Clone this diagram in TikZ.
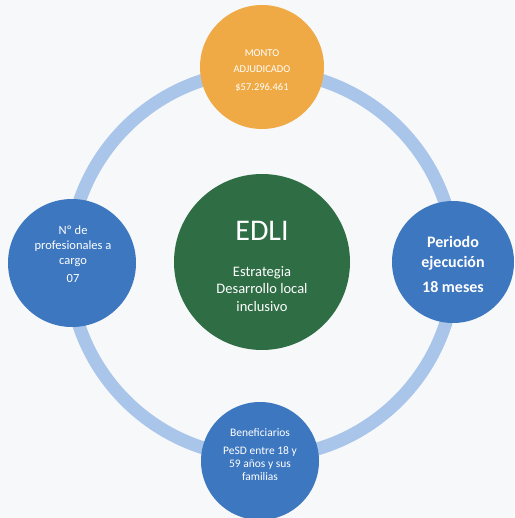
\documentclass[tikz,border=0pt]{standalone}
\usepackage{fontspec}
\setmainfont{Carlito}
\definecolor{ringblue}{HTML}{A9C6EA}
\definecolor{nodeblue}{HTML}{3D77C0}
\definecolor{nodeorange}{HTML}{F0AA45}
\definecolor{nodegreen}{HTML}{2F6E45}
\definecolor{bgcol}{HTML}{F7F8FA}
\begin{document}
\begin{tikzpicture}[x=1pt,y=-1pt,
  bubble/.style={circle,draw=none,inner sep=0pt},
  label/.style={text=white,align=center,inner sep=0pt}]
\fill[bgcol] (0,0) rectangle (514,518);
\useasboundingbox (0,0) rectangle (514,518);
\coordinate (c) at (262,264);
\draw[ringblue,line width=13pt] (c) circle[radius=193];
\node[bubble,fill=nodegreen,minimum size=176pt] (edli) at (262,262) {};
\node[label,font=\fontsize{30}{32}\selectfont] (edlit) at (262,231) {EDLI};
\node[label,font=\fontsize{14.5}{17.5}\selectfont] (edlisub) at (262,289)
  {Estrategia\\Desarrollo local\\inclusivo};
\node[bubble,fill=nodeorange,minimum size=124pt] (monto) at (262,67) {};
\node[label,font=\fontsize{10.5}{16}\selectfont] (montot) at (262,71)
  {MONTO\\ADJUDICADO\\[2pt]\$57.296.461};
\node[bubble,fill=nodeblue,minimum size=128pt] (prof) at (72,263) {};
\node[label,font=\fontsize{12.5}{15}\selectfont] (proft) at (73,254)
  {Nº de\\profesionales a\\cargo\\[3pt]07};
\node[bubble,fill=nodeblue,minimum size=122pt] (per) at (453,262) {};
\node[label,font=\bfseries\fontsize{16}{20}\selectfont] (pert) at (453,264)
  {Periodo\\ejecución\\[5pt]18 meses};
\node[bubble,fill=nodeblue,minimum size=118pt] (ben) at (260,461) {};
\node[label,font=\fontsize{11.5}{13}\selectfont] (bent) at (260,455)
  {Beneficiarios\\[5pt]PeSD entre 18 y\\59 años y sus\\familias};
\end{tikzpicture}
\end{document}
